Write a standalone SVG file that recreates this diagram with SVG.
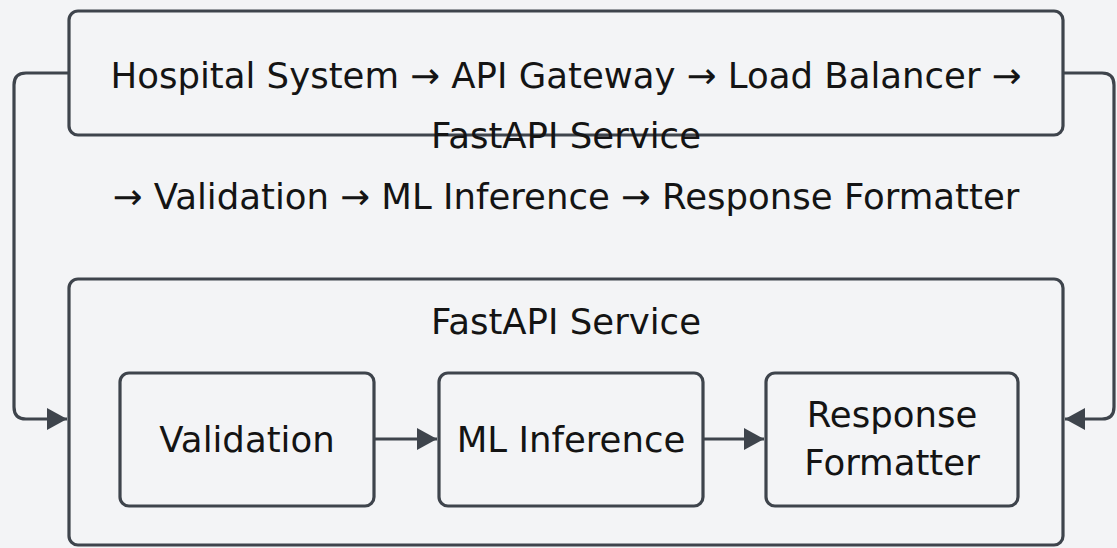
<svg xmlns="http://www.w3.org/2000/svg" width="1117" height="548" viewBox="0 0 1117 548">
  <style>
    .box { fill: #f3f4f6; stroke: #3e444c; stroke-width: 3.2; }
    .conn { fill: none; stroke: #3e444c; stroke-width: 3.2; }
    .lbl { font-family: "DejaVu Sans", sans-serif; font-size: 35.5px; fill: #141414; text-anchor: middle; }
  </style>
  <defs>
    <marker id="arr" viewBox="0 0 20 22" refX="20" refY="11" markerWidth="20" markerHeight="22" markerUnits="userSpaceOnUse" orient="auto">
      <path d="M0,0 L20,11 L0,22 Z" fill="#3e444c"/>
    </marker>
  </defs>
  <rect width="1117" height="548" fill="#f3f4f6"/>

  <g id="pipeline">
    <rect class="box" x="69" y="11" width="994" height="124" rx="9"/>
  </g>

  <g id="fastapi-service">
    <rect class="box" x="69" y="279" width="994" height="266" rx="9"/>
    <text class="lbl" x="566" y="334">FastAPI Service</text>
  </g>

  <g id="validation">
    <rect class="box" x="120" y="373" width="254" height="133" rx="9"/>
    <text class="lbl" x="247" y="452">Validation</text>
  </g>

  <g id="ml-inference">
    <rect class="box" x="439" y="373" width="264" height="133" rx="9"/>
    <text class="lbl" x="571" y="452">ML Inference</text>
  </g>

  <g id="response-formatter">
    <rect class="box" x="766" y="373" width="252" height="133" rx="9"/>
    <text class="lbl" x="892" y="427">Response</text>
    <text class="lbl" x="892" y="475">Formatter</text>
  </g>

  <g id="connectors">
    <path class="conn" d="M69,73 L26,73 Q14,73 14,85 L14,407 Q14,419 26,419 L67,419" marker-end="url(#arr)"/>
    <path class="conn" d="M1063,73 L1102,73 Q1114,73 1114,85 L1114,407 Q1114,419 1102,419 L1065,419" marker-end="url(#arr)"/>
    <path class="conn" d="M374,439 L437,439" marker-end="url(#arr)"/>
    <path class="conn" d="M703,439 L764,439" marker-end="url(#arr)"/>
  </g>

  <g id="pipeline-label">
    <text class="lbl" x="566" y="88">Hospital System → API Gateway → Load Balancer →</text>
    <text class="lbl" x="566" y="148">FastAPI Service</text>
    <text class="lbl" x="566" y="209">→ Validation → ML Inference → Response Formatter</text>
  </g>
</svg>
